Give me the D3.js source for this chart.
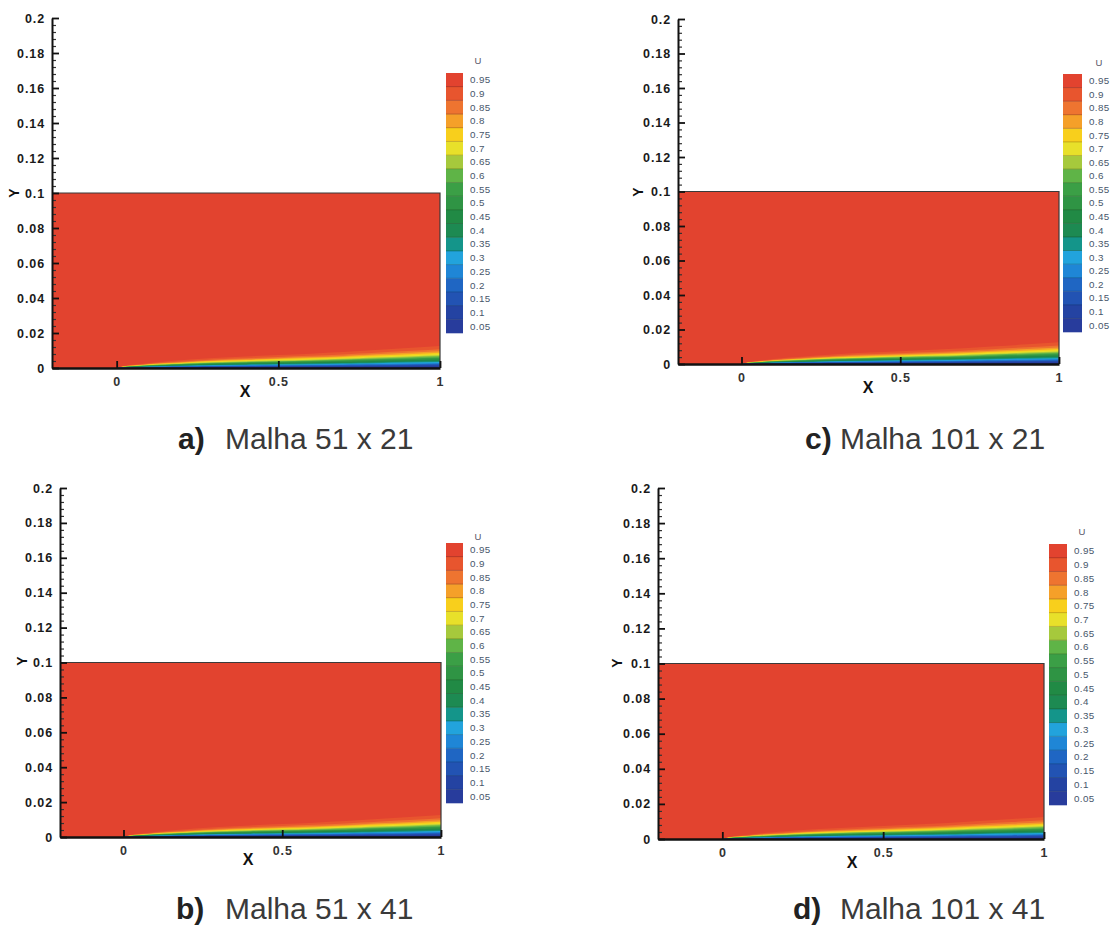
<!DOCTYPE html>
<html>
<head>
<meta charset="utf-8">
<script src="https://cdn.jsdelivr.net/npm/d3@7/dist/d3.min.js"></script>
<style>
  html, body { margin: 0; padding: 0; background: #ffffff; }
  svg { display: block; }
  text { font-family: "Liberation Sans", Arial, Helvetica, sans-serif; }
</style>
</head>
<body>
<svg id="chart" width="1110" height="927"></svg>
<script>
// ---------------- data ----------------
const panelLetters = ["a)", "b)", "c)", "d)"];
const panelTitles = ["Malha 51 x 21", "Malha 51 x 41", "Malha 101 x 21", "Malha 101 x 41"];

const levels = [0.05, 0.1, 0.15, 0.2, 0.25, 0.3, 0.35, 0.4, 0.45, 0.5, 0.55, 0.6, 0.65, 0.7, 0.75, 0.8, 0.85, 0.9, 0.95];
const levelLabels = ["0.05", "0.1", "0.15", "0.2", "0.25", "0.3", "0.35", "0.4", "0.45", "0.5", "0.55", "0.6", "0.65", "0.7", "0.75", "0.8", "0.85", "0.9", "0.95"];
const levelColors = ["#283c9c", "#2443a2", "#2253b3", "#1f66c3", "#1f86d6", "#22a3dc", "#14958a", "#1d8a52", "#218a45", "#2f9444", "#3b9f46", "#5fb447", "#a6c93c", "#e8e02a", "#f8cf1c", "#f5a029", "#ee7430", "#e8552e", "#e2432f"];
const belowLowestColor = "#1e2f86";

// boundary-layer edge (U = 0.95 contour) read along the plate
const plateX = [0, 0.02, 0.05, 0.1, 0.15, 0.2, 0.25, 0.3, 0.4, 0.5, 0.6, 0.7, 0.75, 0.8, 0.9, 1.0];
const edgeThickness = [0, 0.0011, 0.0018, 0.0029, 0.0037, 0.0044, 0.0051, 0.0057, 0.0066, 0.0074, 0.0082, 0.0091, 0.0097, 0.0103, 0.0114, 0.0126];
// height of each contour level as a fraction of the edge thickness (0.05 ... 0.95)
const profileFraction = [0.04, 0.077, 0.115, 0.154, 0.19, 0.23, 0.27, 0.31, 0.35, 0.39, 0.44, 0.48, 0.53, 0.58, 0.63, 0.69, 0.76, 0.85, 1.0];

const domainX = [-0.2, 1];
const domainY = [0, 0.2];
const fieldTop = 0.1;
const yTicks = [0, 0.02, 0.04, 0.06, 0.08, 0.1, 0.12, 0.14, 0.16, 0.18, 0.2];
const yTickLabels = ["0", "0.02", "0.04", "0.06", "0.08", "0.1", "0.12", "0.14", "0.16", "0.18", "0.2"];
const xTicks = [0, 0.5, 1];
const xTickLabels = ["0", "0.5", "1"];

// ---------------- layout ----------------
const layout = [
  { x0: 52, x1: 440, y0: 368, y1: 18, cb: [446, 463, 73, 333], u: [478, 61], xl: [245, 397], yl: [14, 193], cap: [178, 225, 449] },
  { x0: 60, x1: 441, y0: 837, y1: 488, cb: [446, 463, 543, 803], u: [478, 537], xl: [248, 865], yl: [22, 661], cap: [176, 225, 919] },
  { x0: 678, x1: 1059, y0: 364, y1: 19, cb: [1063, 1082, 74, 332], u: [1099, 63], xl: [868, 393], yl: [638, 192], cap: [805, 840, 449] },
  { x0: 658, x1: 1044, y0: 839, y1: 488, cb: [1049, 1067, 544, 805], u: [1082, 532], xl: [852, 868], yl: [617, 663], cap: [793, 840, 919] }
];

const svg = d3.select("#chart");
const plateData = plateX.map((x, i) => ({ x: x, d: edgeThickness[i] }));

layout.forEach((L, p) => {
  const g = svg.append("g");
  const x = d3.scaleLinear().domain(domainX).range([L.x0, L.x1]);
  const y = d3.scaleLinear().domain(domainY).range([L.y0, L.y1]);

  // free stream field
  g.append("rect")
    .attr("x", x(domainX[0])).attr("y", y(fieldTop))
    .attr("width", x(1) - x(domainX[0])).attr("height", y(0) - y(fieldTop))
    .attr("fill", levelColors[levelColors.length - 1]);

  // contour bands (paint from highest level down)
  for (let k = levels.length - 1; k >= 0; k--) {
    const fill = k > 0 ? levelColors[k - 1] : belowLowestColor;
    const area = d3.area()
      .x(d => x(d.x))
      .y0(y(0))
      .y1(d => y(d.d * profileFraction[k]))
      .curve(d3.curveMonotoneX);
    g.append("path").datum(plateData).attr("d", area).attr("fill", fill);
  }

  // field outline (top and right)
  g.append("path")
    .attr("d", `M${x(domainX[0])},${y(fieldTop)}H${x(1)}V${y(0)}`)
    .attr("fill", "none").attr("stroke", "#3a3a3a").attr("stroke-width", 1.2);

  // y axis: minor ticks
  const minor = d3.range(0, 51).map(i => i * 0.004).filter(v => !yTicks.some(t => Math.abs(t - v) < 1e-9));
  const ym = g.append("g").attr("transform", `translate(${L.x0},0)`)
    .call(d3.axisLeft(y).tickValues(minor).tickSize(-4).tickSizeOuter(0).tickFormat(""));
  ym.select(".domain").remove();
  ym.selectAll(".tick line").attr("stroke", "#333").attr("stroke-width", 1.2);

  // y axis: major ticks
  const ya = g.append("g").attr("transform", `translate(${L.x0},0)`)
    .call(d3.axisLeft(y).tickValues(yTicks).tickSize(-7).tickSizeOuter(0).tickPadding(7)
      .tickFormat((d, i) => yTickLabels[i]));
  ya.select(".domain").attr("stroke", "#111").attr("stroke-width", 2);
  ya.selectAll(".tick line").attr("stroke", "#111").attr("stroke-width", 1.8);
  ya.selectAll(".tick text").attr("fill", "#1a1a1a").style("font-size", "12.5px")
    .style("font-weight", "bold").style("letter-spacing", "0.9px");

  // x axis
  const xa = g.append("g").attr("transform", `translate(0,${L.y0})`)
    .call(d3.axisBottom(x).tickValues(xTicks).tickSize(-7).tickSizeOuter(0).tickPadding(9)
      .tickFormat((d, i) => xTickLabels[i]));
  xa.select(".domain").attr("stroke", "#111").attr("stroke-width", 2.6);
  xa.selectAll(".tick line").attr("stroke", "#111").attr("stroke-width", 1.8);
  xa.selectAll(".tick text").attr("fill", "#333").style("font-size", "12.5px")
    .style("font-weight", "bold").style("letter-spacing", "0.9px");

  // axis titles
  g.append("text").attr("x", L.xl[0]).attr("y", L.xl[1])
    .attr("text-anchor", "middle").style("font-size", "16px").style("font-weight", "bold")
    .attr("fill", "#111").text("X");
  g.append("text").attr("transform", `translate(${L.yl[0]},${L.yl[1]}) rotate(-90)`)
    .attr("text-anchor", "middle").attr("dy", "0.35em")
    .style("font-size", "14px").style("font-weight", "bold").attr("fill", "#111").text("Y");

  // colour legend
  const [cx0, cx1, cy0, cy1] = L.cb;
  const band = d3.scaleBand().domain(levels.slice().reverse()).range([cy0, cy1]);
  const lg = g.append("g");
  lg.selectAll("rect").data(levels).join("rect")
    .attr("x", cx0).attr("y", d => band(d))
    .attr("width", cx1 - cx0).attr("height", band.bandwidth() + 0.3)
    .attr("fill", (d, i) => levelColors[i]);
  lg.selectAll("line").data(levels.slice(0, -1)).join("line")
    .attr("x1", cx0).attr("x2", cx1)
    .attr("y1", d => band(d)).attr("y2", d => band(d))
    .attr("stroke", "rgba(0,0,0,0.25)").attr("stroke-width", 0.8);
  lg.selectAll("text").data(levels).join("text")
    .attr("x", cx1 + 7).attr("y", d => band(d) + band.bandwidth() / 2)
    .attr("dy", "0.35em").style("font-size", "9.8px").style("letter-spacing", "0.4px")
    .attr("fill", "#46566a").text((d, i) => levelLabels[i]);
  g.append("text").attr("x", L.u[0]).attr("y", L.u[1]).attr("text-anchor", "middle")
    .attr("dy", "0.35em").style("font-size", "9.5px").attr("fill", "#556").text("U");

  // caption
  g.append("text").attr("x", L.cap[0]).attr("y", L.cap[2])
    .style("font-size", "30px").style("font-weight", "bold").attr("fill", "#222")
    .text(panelLetters[p]);
  g.append("text").attr("x", L.cap[1]).attr("y", L.cap[2])
    .style("font-size", "30px").attr("fill", "#3a3a3a")
    .text(panelTitles[p]);
});
</script>
</body>
</html>
